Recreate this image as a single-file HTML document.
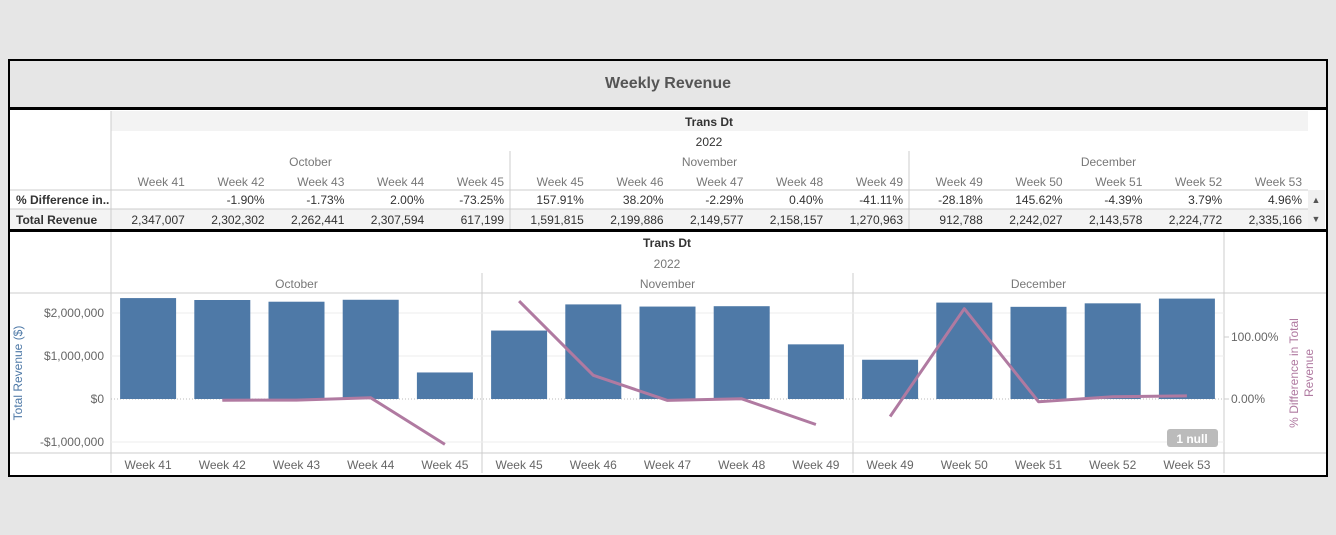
<!DOCTYPE html>
<html><head><meta charset="utf-8"><style>
body{margin:0;width:1336px;height:535px;background:#e6e6e6;font-family:"Liberation Sans",sans-serif;position:relative;overflow:hidden}
.a{position:absolute}
</style></head><body>
<div class="a" style="left:8px;top:59px;width:1316px;height:414px;border:2px solid #000;background:#fff"></div>
<div class="a" style="left:10px;top:61px;width:1316px;height:46px;background:#e6e6e6;text-align:center;line-height:46px;font-weight:bold;font-size:16px;color:#555">Weekly Revenue</div>
<div class="a" style="left:10px;top:107px;width:1316px;height:3px;background:#000"></div>
<div class="a" style="left:10px;top:229px;width:1316px;height:3px;background:#000"></div>
<svg class="a" style="left:0;top:0" width="1336" height="535" id="svg" font-family="Liberation Sans, sans-serif"></svg>
<script>
const weeks=["Week 41","Week 42","Week 43","Week 44","Week 45","Week 45","Week 46","Week 47","Week 48","Week 49","Week 49","Week 50","Week 51","Week 52","Week 53"];
const months=["October","November","December"];
const revenue=[2347007,2302302,2262441,2307594,617199,1591815,2199886,2149577,2158157,1270963,912788,2242027,2143578,2224772,2335166];
const pctDiff=[null,-1.90,-1.73,2.00,-73.25,157.91,38.20,-2.29,0.40,-41.11,-28.18,145.62,-4.39,3.79,4.96];
const revTicks=[-1000000,0,1000000,2000000];
const revTickLabels=["-$1,000,000","$0","$1,000,000","$2,000,000"];
const pctTicks=[0,100];
const pctTickLabels=["0.00%","100.00%"];
const NS="http://www.w3.org/2000/svg",svg=document.getElementById('svg');
function el(t,a,txt){const e=document.createElementNS(NS,t);for(const k in a)e.setAttribute(k,a[k]);if(txt!=null)e.textContent=txt;svg.appendChild(e);return e}
function fmt(v){return v.toLocaleString('en-US')}
// table
el('rect',{x:111,y:111,width:1197,height:20,fill:'#f3f3f3'});
el('rect',{x:10,y:209,width:1298,height:20,fill:'#f3f3f3'});
el('line',{x1:111,y1:111,x2:111,y2:229,stroke:'#ccc'});
el('line',{x1:10,y1:190,x2:1308,y2:190,stroke:'#ccc'});
el('line',{x1:10,y1:209,x2:1308,y2:209,stroke:'#ccc'});
let t=el('text',{x:709,y:126,'text-anchor':'middle','font-size':12,fill:'#333','font-weight':'bold'},'Trans Dt');
el('text',{x:709,y:146,'text-anchor':'middle','font-size':12,fill:'#333'},'2022');
const cw=79.8,tx0=111;
[510,909].forEach(x=>el('line',{x1:x,y1:151,x2:x,y2:229,stroke:'#ccc'}));
months.forEach((m,i)=>el('text',{x:tx0+cw*(i*5+2.5),y:166,'text-anchor':'middle','font-size':12,fill:'#777'},m));
weeks.forEach((w,i)=>{
  const r=tx0+cw*(i+1)-6;
  el('text',{x:r,y:186,'text-anchor':'end','font-size':12,fill:'#777'},w);
  if(pctDiff[i]!=null){const c=el('text',{x:r,y:204,'text-anchor':'end','font-size':12,fill:'#333'},pctDiff[i].toFixed(2)+'%');}
  const c2=el('text',{x:r,y:224,'text-anchor':'end','font-size':12,fill:'#333'},fmt(revenue[i]));
});
el('text',{x:16,y:204,'font-size':12,fill:'#333','font-weight':'bold'},'% Difference in..');
el('text',{x:16,y:224,'font-size':12,fill:'#333','font-weight':'bold'},'Total Revenue');
el('rect',{x:1308,y:190,width:17,height:39,fill:'#f0f0f0'});
el('text',{x:1316,y:203,'text-anchor':'middle','font-size':9,fill:'#555'},'▲');
el('text',{x:1316,y:222,'text-anchor':'middle','font-size':9,fill:'#555'},'▼');
// chart
const px0=111,pw=371,slot=pw/5,bw=56;
const yR=v=>399-v/1000000*43, yP=v=>399-v/100*62;
el('text',{x:667,y:247,'text-anchor':'middle','font-size':12,fill:'#333','font-weight':'bold'},'Trans Dt');
el('text',{x:667,y:268,'text-anchor':'middle','font-size':12,fill:'#777'},'2022');
el('line',{x1:111,y1:232,x2:111,y2:473,stroke:'#ccc'});
el('line',{x1:1224,y1:232,x2:1224,y2:473,stroke:'#ccc'});
el('line',{x1:10,y1:293,x2:1326,y2:293,stroke:'#ccc'});
el('line',{x1:10,y1:453,x2:1326,y2:453,stroke:'#ccc'});
[482,853].forEach(x=>el('line',{x1:x,y1:273,x2:x,y2:473,stroke:'#ccc'}));
months.forEach((m,i)=>el('text',{x:px0+pw*(i+.5),y:288,'text-anchor':'middle','font-size':12,fill:'#777'},m));
revTicks.forEach((v,i)=>{
  el('line',{x1:111,y1:yR(v),x2:1224,y2:yR(v),stroke:v===0?'#bbb':'#eee','stroke-dasharray':v===0?'1,2':'none'});
  el('text',{x:104,y:yR(v)+4,'text-anchor':'end','font-size':12,fill:'#666'},revTickLabels[i]);
});
pctTicks.forEach((v,i)=>{el('line',{x1:1224,y1:yP(v),x2:1229,y2:yP(v),stroke:'#ccc'});el('text',{x:1231,y:yP(v)+4,'font-size':12,fill:'#666'},pctTickLabels[i]);});
revenue.forEach((v,i)=>{
  const cx=px0+slot*(i+.5);
  const b=el('rect',{x:cx-bw/2,y:Math.min(yR(v),yR(0)),width:bw,height:Math.abs(yR(0)-yR(v)),fill:'#4e79a7'});
  
  el('text',{x:cx,y:469,'text-anchor':'middle','font-size':12,fill:'#666'},weeks[i]);
});
for(let p=0;p<3;p++){
  let pts=[];for(let k=0;k<5;k++){const i=p*5+k;if(pctDiff[i]!=null)pts.push((px0+slot*(i+.5)).toFixed(1)+','+yP(pctDiff[i]).toFixed(1));}
  const l=el('polyline',{points:pts.join(' '),fill:'none',stroke:'#b07aa1','stroke-width':3,'stroke-linejoin':'round'});
  
}
const n=el('rect',{x:1167,y:429,width:51,height:18,rx:3,fill:'#bbb'});
el('text',{x:1192,y:443,'text-anchor':'middle','font-size':12,'font-weight':'bold',fill:'#fff'},'1 null');
el('text',{transform:'translate(22,373) rotate(-90)','text-anchor':'middle','font-size':12,fill:'#4e79a7'},'Total Revenue ($)');
el('text',{transform:'translate(1298,373) rotate(-90)','text-anchor':'middle','font-size':12,fill:'#b07aa1'},'% Difference in Total');
el('text',{transform:'translate(1313,373) rotate(-90)','text-anchor':'middle','font-size':12,fill:'#b07aa1'},'Revenue');
</script>
</body></html>
